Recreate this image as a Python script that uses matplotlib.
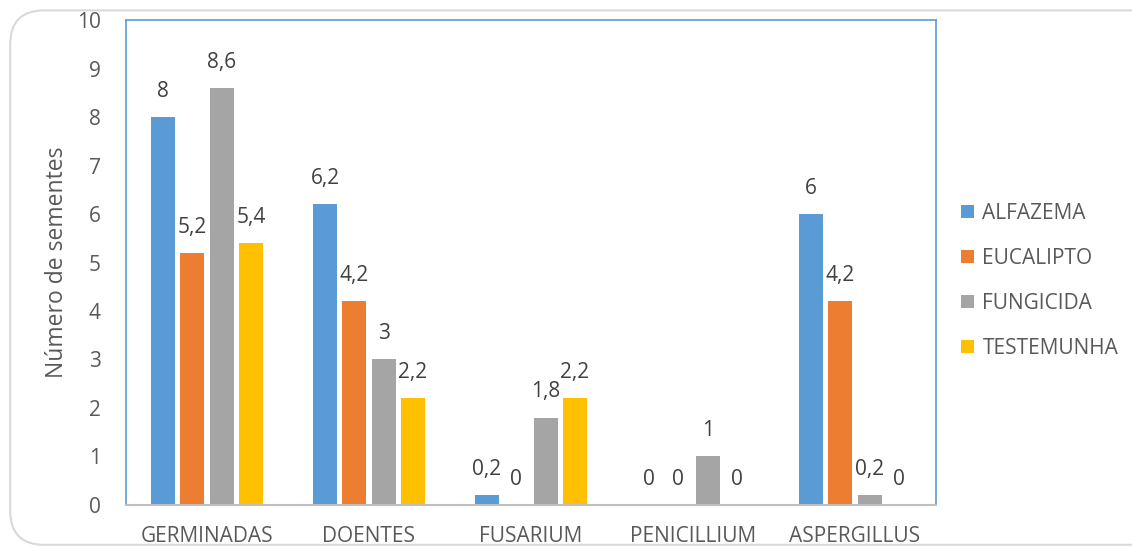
import numpy as np
import matplotlib
matplotlib.use('Agg')
import matplotlib.pyplot as plt
from matplotlib.patches import FancyBboxPatch

# Dados: número de sementes por categoria e tratamento
categorias = ["GERMINADAS", "DOENTES", "FUSARIUM", "PENICILLIUM", "ASPERGILLUS"]
alfazema = [8, 6.2, 0.2, 0, 6]
eucalipto = [5.2, 4.2, 0, 0, 4.2]
fungicida = [8.6, 3, 1.8, 1, 0.2]
testemunha = [5.4, 2.2, 2.2, 0, 0]
series_nomes = ["ALFAZEMA", "EUCALIPTO", "FUNGICIDA", "TESTEMUNHA"]
cores = ["#5b9bd5", "#ed7d31", "#a5a5a5", "#ffc000"]

plt.rcParams['font.family'] = ['Open Sans', 'DejaVu Sans']

fig = plt.figure(figsize=(11.32, 5.47), dpi=100)
ax = fig.add_axes([0.1113, 0.0768, 0.7155, 0.8866])

# moldura arredondada do gráfico
moldura = FancyBboxPatch((0.009, 0.004), 1.2, 0.977, boxstyle="round,pad=0,rounding_size=0.03",
                         transform=fig.transFigure, fill=False, edgecolor="#d9d9d9", linewidth=1.5,
                         mutation_aspect=1132/547)
fig.patches.append(moldura)

x = np.arange(len(categorias))
passo = 0.181
largura = 0.148
dados = [alfazema, eucalipto, fungicida, testemunha]
for i, (vals, nome, cor) in enumerate(zip(dados, series_nomes, cores)):
    pos = x + (i - 1.5) * passo
    ax.bar(pos, vals, largura, color=cor, label=nome, zorder=2)
    for p, v in zip(pos, vals):
        txt = ("%g" % v).replace(".", ",")
        ax.annotate(txt, (p, v), xytext=(0, 11), textcoords="offset points",
                    ha="center", va="bottom", fontsize=15, color="#404040")

ax.set_xlim(-0.5, 4.5)
ax.set_ylim(0, 10)
ax.set_yticks(range(0, 11))
ax.set_xticks(x)
ax.set_xticklabels(categorias)
ax.tick_params(axis="both", length=0, labelsize=15, colors="#595959")
ax.tick_params(axis="x", pad=15)
ax.tick_params(axis="y", pad=18)
ax.set_ylabel("Número de sementes", fontsize=16.5, color="#595959", labelpad=6)

for lado in ["left", "top", "right"]:
    ax.spines[lado].set_color("#5b9bd5")
    ax.spines[lado].set_linewidth(1.2)
ax.spines["bottom"].set_color("#bfbfbf")
ax.spines["bottom"].set_linewidth(1.5)

leg = ax.legend(loc="center left", bbox_to_anchor=(1.008, 0.462), frameon=False,
                fontsize=15, handlelength=0.62, handleheight=0.62, handletextpad=0.4,
                labelspacing=1.15, labelcolor="#595959")

fig.savefig("out.png", dpi=100)
